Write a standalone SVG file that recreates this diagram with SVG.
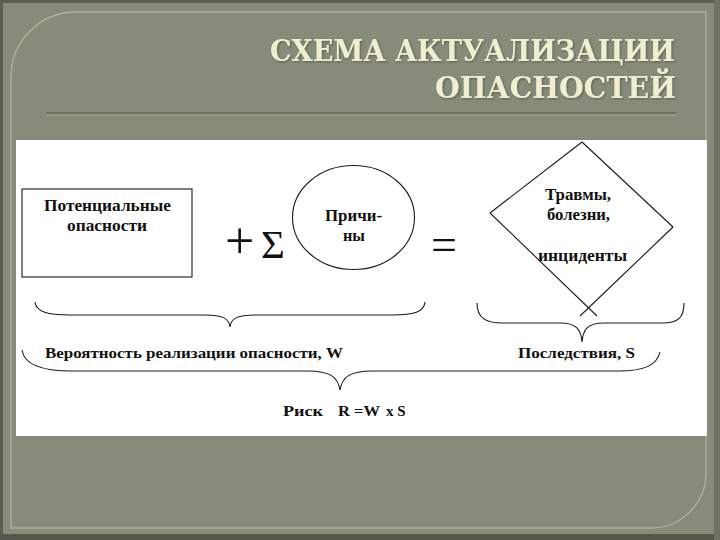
<svg xmlns="http://www.w3.org/2000/svg" width="720" height="540" viewBox="0 0 720 540">
  <defs>
    <style>
      .title { font-family: "DejaVu Serif", "Liberation Serif", serif; font-weight: bold; font-size: 29px; fill: #efeed0; }
      .lbl { font-family: "Liberation Serif", "Times New Roman", serif; font-weight: bold; font-size: 16px; fill: #111; }
      .sml { font-family: "Liberation Serif", "Times New Roman", serif; font-weight: bold; font-size: 15px; fill: #111; }
      .op { font-family: "Liberation Serif", "Times New Roman", serif; fill: #111; }
      .shape { fill: none; stroke: #1a1a1a; stroke-width: 1.1; }
      .brace { fill: none; stroke: #1a1a1a; stroke-width: 1.1; }
    </style>
    <filter id="shadow" x="-5%" y="-20%" width="110%" height="140%">
      <feDropShadow dx="1" dy="1" stdDeviation="0.8" flood-color="#3d4134" flood-opacity="0.6"/>
    </filter>
  </defs>

  <!-- background -->
  <rect x="0" y="0" width="720" height="540" fill="#878b79"/>
  <rect x="1.5" y="1.5" width="717" height="537" fill="none" stroke="#5a5e50" stroke-width="3"/>
  <rect x="0" y="534" width="720" height="6" fill="#55594b"/>
  <rect x="714" y="0" width="6" height="540" fill="#6e7263"/>

  <!-- slide frame -->
  <path d="M11,77 A65,65 0 0 1 76,12 L706,12 L706,473 A55,55 0 0 1 651,528 L11,528 Z" fill="none" stroke="#aeb29c" stroke-width="1.3"/>

  <!-- title -->
  <g id="title" filter="url(#shadow)">
    <text class="title" x="270" y="61" textLength="405" lengthAdjust="spacingAndGlyphs">СХЕМА АКТУАЛИЗАЦИИ</text>
    <text class="title" x="435" y="98" textLength="241" lengthAdjust="spacingAndGlyphs">ОПАСНОСТЕЙ</text>
  </g>
  <line x1="46" y1="113" x2="676" y2="113" stroke="#66765e" stroke-width="2"/>
  <line x1="46" y1="115" x2="676" y2="115" stroke="#a2a690" stroke-width="1"/>

  <!-- white panel -->
  <rect x="16" y="140" width="691" height="296" fill="#ffffff"/>

  <g id="potential-hazards">
    <rect class="shape" x="22" y="189" width="170" height="88"/>
    <text class="lbl" x="44" y="211" textLength="127" lengthAdjust="spacingAndGlyphs">Потенциальные</text>
    <text class="lbl" x="67" y="231" textLength="80" lengthAdjust="spacingAndGlyphs">опасности</text>
  </g>

  <g id="plus-sum">
    <text class="op" x="225" y="258" font-size="52">+</text>
    <text class="op" x="261" y="258" font-size="41">Σ</text>
  </g>

  <g id="causes">
    <ellipse class="shape" cx="353.5" cy="217.5" rx="61" ry="52"/>
    <text class="lbl" x="325" y="221" textLength="57" lengthAdjust="spacingAndGlyphs">Причи-</text>
    <text class="lbl" x="343" y="241" textLength="22" lengthAdjust="spacingAndGlyphs">ны</text>
  </g>

  <g id="equals">
    <text class="op" x="431" y="260" font-size="46">=</text>
  </g>

  <g id="consequences-diamond">
    <line class="shape" x1="582" y1="142" x2="490" y2="213"/>
    <line class="shape" x1="582" y1="142" x2="673" y2="227"/>
    <line class="shape" x1="490" y1="213" x2="597" y2="316"/>
    <line class="shape" x1="673" y1="227" x2="580" y2="316"/>
    <text class="lbl" x="545" y="200" textLength="66" lengthAdjust="spacingAndGlyphs">Травмы,</text>
    <text class="lbl" x="547" y="220" textLength="63" lengthAdjust="spacingAndGlyphs">болезни,</text>
    <text class="lbl" x="538" y="261" textLength="89" lengthAdjust="spacingAndGlyphs">инциденты</text>
  </g>

  <g id="connectors">
    <path class="brace" d="M35,302 C36,312 48,315 70,315 L205,315 C222,315 229,318 230,327 C231,318 238,315 255,315 L392,315 C414,315 424,312 425,302"/>
    <path class="brace" d="M477,303 C477,318 486,323 502,323 L560,323 C576,323 581,329 582,342 C583,329 588,323 604,323 L662,323 C678,323 684,318 684,303"/>
    <path class="brace" d="M22,350 C24,365 44,371 72,371 L308,371 C330,371 338,377 340,390 C342,377 350,371 372,371 L618,371 C645,371 657,365 660,352"/>
  </g>

  <g id="labels">
    <text class="sml" x="45" y="358" textLength="298" lengthAdjust="spacingAndGlyphs">Вероятность реализации опасности, W</text>
    <text class="sml" x="518" y="358" textLength="117" lengthAdjust="spacingAndGlyphs">Последствия, S</text>
    <text class="sml" y="416" font-size="14"><tspan x="283" textLength="40" lengthAdjust="spacingAndGlyphs">Риск</tspan><tspan x="338" textLength="42" lengthAdjust="spacingAndGlyphs">R =W</tspan><tspan x="386">x S</tspan></text>
  </g>
</svg>
